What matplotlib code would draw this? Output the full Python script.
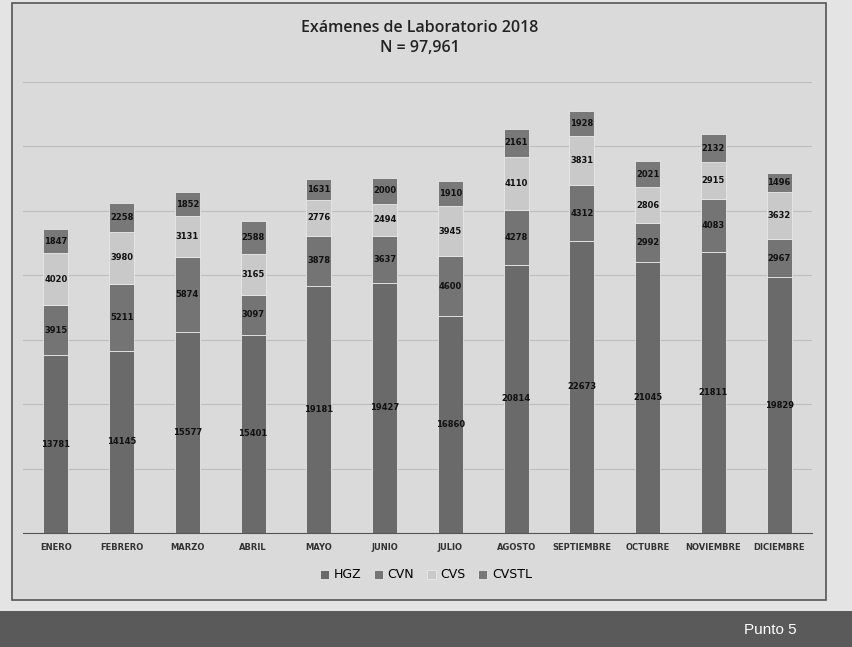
import matplotlib
matplotlib.use("Agg")
import matplotlib.pyplot as plt
import numpy as np
from matplotlib.patches import Rectangle

meses = ['ENERO', 'FEBRERO', 'MARZO', 'ABRIL', 'MAYO', 'JUNIO', 'JULIO',
         'AGOSTO', 'SEPTIEMBRE', 'OCTUBRE', 'NOVIEMBRE', 'DICIEMBRE']
hgz = [13781, 14145, 15577, 15401, 19181, 19427, 16860, 20814, 22673, 21045, 21811, 19829]
cvn = [3915, 5211, 5874, 3097, 3878, 3637, 4600, 4278, 4312, 2992, 4083, 2967]
cvs = [4020, 3980, 3131, 3165, 2776, 2494, 3945, 4110, 3831, 2806, 2915, 3632]
cvstl = [1847, 2258, 1852, 2588, 1631, 2000, 1910, 2161, 1928, 2021, 2132, 1496]

series = [('HGZ', hgz, '#6a6a6a'), ('CVN', cvn, '#747474'),
          ('CVS', cvs, '#c9c9c9'), ('CVSTL', cvstl, '#787878')]

fig = plt.figure(figsize=(8.52, 6.47), dpi=100)
fig.patch.set_facecolor('#e4e4e4')

# chart frame + bottom banner
fig.patches.append(Rectangle((12/852, 1-600/647), 814/852, 597/647, transform=fig.transFigure,
                             facecolor='#dadada', edgecolor='#555555', lw=1.2, zorder=-2))
fig.patches.append(Rectangle((0, 0), 1, 36/647, transform=fig.transFigure,
                             facecolor='#5a5a5a', edgecolor='none', zorder=-2))
fig.text(0.935, 17/647, 'Punto 5', color='white', fontsize=11, ha='right', va='center',
         family='Liberation Sans')

ax = fig.add_axes([23/852, 114/647, 789/852, 451/647])
ax.set_zorder(1)
ax.set_facecolor('none')
x = np.arange(len(meses))
bottom = np.zeros(len(meses))
for name, vals, col in series:
    vals = np.array(vals)
    ax.bar(x, vals, 0.38, bottom=bottom, color=col, label=name, zorder=3,
           edgecolor='#e8e8e8', linewidth=0.6)
    for xi, b, v in zip(x, bottom, vals):
        ax.text(xi, b + v / 2, str(v), ha='center', va='center', fontsize=6,
                fontweight='bold', color='#111111', zorder=4)
    bottom += vals

ax.set_xlim(-0.5, 11.5)
ax.set_ylim(0, 35000)
ax.set_yticks(np.arange(0, 35001, 5000))
ax.yaxis.grid(True, color='#bdbdbd', lw=0.8, zorder=0)
ax.set_yticklabels([])
ax.tick_params(left=False, bottom=False)
ax.set_xticks(x)
ax.set_xticklabels(meses, fontsize=6, color='#333333', fontweight='bold')
for s in ['top', 'right', 'left']:
    ax.spines[s].set_visible(False)
ax.spines['bottom'].set_color('#555555')

fig.text(0.493, 1-28/647, 'Exámenes de Laboratorio 2018', ha='center', va='center',
         fontsize=11.5, color='#222222', family='Open Sans', fontweight='semibold')
fig.text(0.493, 1-48/647, 'N = 97,961', ha='center', va='center',
         fontsize=11.5, color='#222222', family='Open Sans', fontweight='semibold')

fig.legend(loc='center', bbox_to_anchor=(0.5, 1-575/647), ncol=4, frameon=False,
           fontsize=9, handlelength=0.7, handleheight=0.7, columnspacing=1.0,
           handletextpad=0.4)

fig.savefig('out.png', dpi=100, facecolor=fig.get_facecolor())
